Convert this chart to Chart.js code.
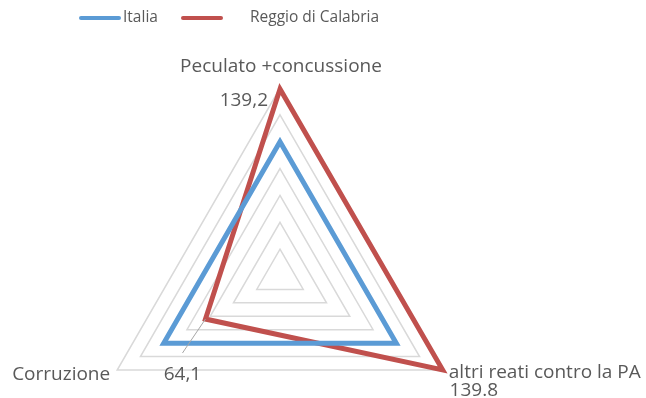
<!DOCTYPE html>
<html>
<head>
<meta charset="utf-8">
<script src="https://cdn.jsdelivr.net/npm/chart.js@4"></script>
<style>
  html, body { margin: 0; padding: 0; background: #fff; overflow: hidden; }
  #frame { width: 646px; height: 398px; overflow: hidden; position: relative; }
  #wrap { width: 646px; height: 470px; position: absolute; left: 0; top: 0; }
</style>
</head>
<body>
<div id="frame"><div id="wrap"><canvas id="radar"></canvas></div></div>
<script>
const categories = ['Peculato +concussione', 'altri reati contro la PA', 'Corruzione'];
const italia = [100, 100, 100];
const reggio = [139.2, 139.8, 64.1];
const reggioText = ['139,2', '139.8', '64,1'];
const scaleTicks = [0, 20, 40, 60, 80, 100, 120, 140];

const FONT = '"Open Sans", sans-serif';
const TEXT = '#595959';
const BLUE = '#5b9bd5';
const RED = '#c0504d';

// axis names, value labels and the legend are painted by hand
const labelsPlugin = {
  id: 'labels',
  afterDatasetsDraw(chart) {
    const ctx = chart.ctx;
    const r = chart.scales.r;
    const top = r.getPointPositionForValue(0, 140);
    const right = r.getPointPositionForValue(1, 140);
    const left = r.getPointPositionForValue(2, 140);
    ctx.save();
    ctx.fillStyle = TEXT;
    ctx.font = '19px ' + FONT;
    ctx.textBaseline = 'middle';

    ctx.textAlign = 'center';
    ctx.fillText(categories[0], top.x + 1, top.y - 21);
    ctx.textAlign = 'left';
    ctx.fillText(categories[1], right.x + 6, right.y + 3);
    ctx.textAlign = 'right';
    ctx.fillText(categories[2], left.x - 7, left.y + 5);

    // value labels for Reggio di Calabria
    const pts = chart.getDatasetMeta(1).data;
    ctx.textAlign = 'right';
    ctx.fillText(reggioText[0], pts[0].x - 12, pts[0].y + 12);
    ctx.textAlign = 'left';
    ctx.fillText(reggioText[1], pts[1].x + 7, pts[1].y + 21);
    ctx.textAlign = 'center';
    ctx.fillText(reggioText[2], pts[2].x - 23, pts[2].y + 56);

    // leader line to the Corruzione point
    ctx.strokeStyle = '#a6a6a6';
    ctx.lineWidth = 1;
    ctx.beginPath();
    ctx.moveTo(pts[2].x - 23, pts[2].y + 34);
    ctx.lineTo(pts[2].x, pts[2].y);
    ctx.stroke();

    // legend
    ctx.font = '15.5px ' + FONT;
    ctx.lineCap = 'round';
    ctx.lineWidth = 4;
    ctx.strokeStyle = BLUE;
    ctx.beginPath(); ctx.moveTo(81, 18); ctx.lineTo(119, 18); ctx.stroke();
    ctx.strokeStyle = RED;
    ctx.beginPath(); ctx.moveTo(183, 18); ctx.lineTo(221, 18); ctx.stroke();
    ctx.textAlign = 'left';
    ctx.fillText('Italia', 123, 18);
    ctx.fillText('Reggio di Calabria', 250, 18);
    ctx.restore();
  }
};

new Chart(document.getElementById('radar'), {
  type: 'radar',
  data: {
    labels: categories,
    datasets: [
      { label: 'Italia', data: italia, borderColor: BLUE, borderWidth: 5, fill: false,
        pointRadius: 0, borderJoinStyle: 'miter' },
      { label: 'Reggio di Calabria', data: reggio, borderColor: RED, borderWidth: 5, fill: false,
        pointRadius: 0, borderJoinStyle: 'miter' }
    ]
  },
  options: {
    responsive: true,
    maintainAspectRatio: false,
    animation: false,
    layout: { padding: { top: 88, left: 0, right: 86, bottom: 6 } },
    plugins: { legend: { display: false }, tooltip: { enabled: false } },
    scales: {
      r: {
        min: scaleTicks[0],
        max: scaleTicks[scaleTicks.length - 1],
        ticks: { display: false, stepSize: scaleTicks[1] - scaleTicks[0] },
        grid: { color: '#d9d9d9', lineWidth: 1.5 },
        angleLines: { display: false },
        pointLabels: { display: false }
      }
    }
  },
  plugins: [labelsPlugin]
});
</script>
</body>
</html>
